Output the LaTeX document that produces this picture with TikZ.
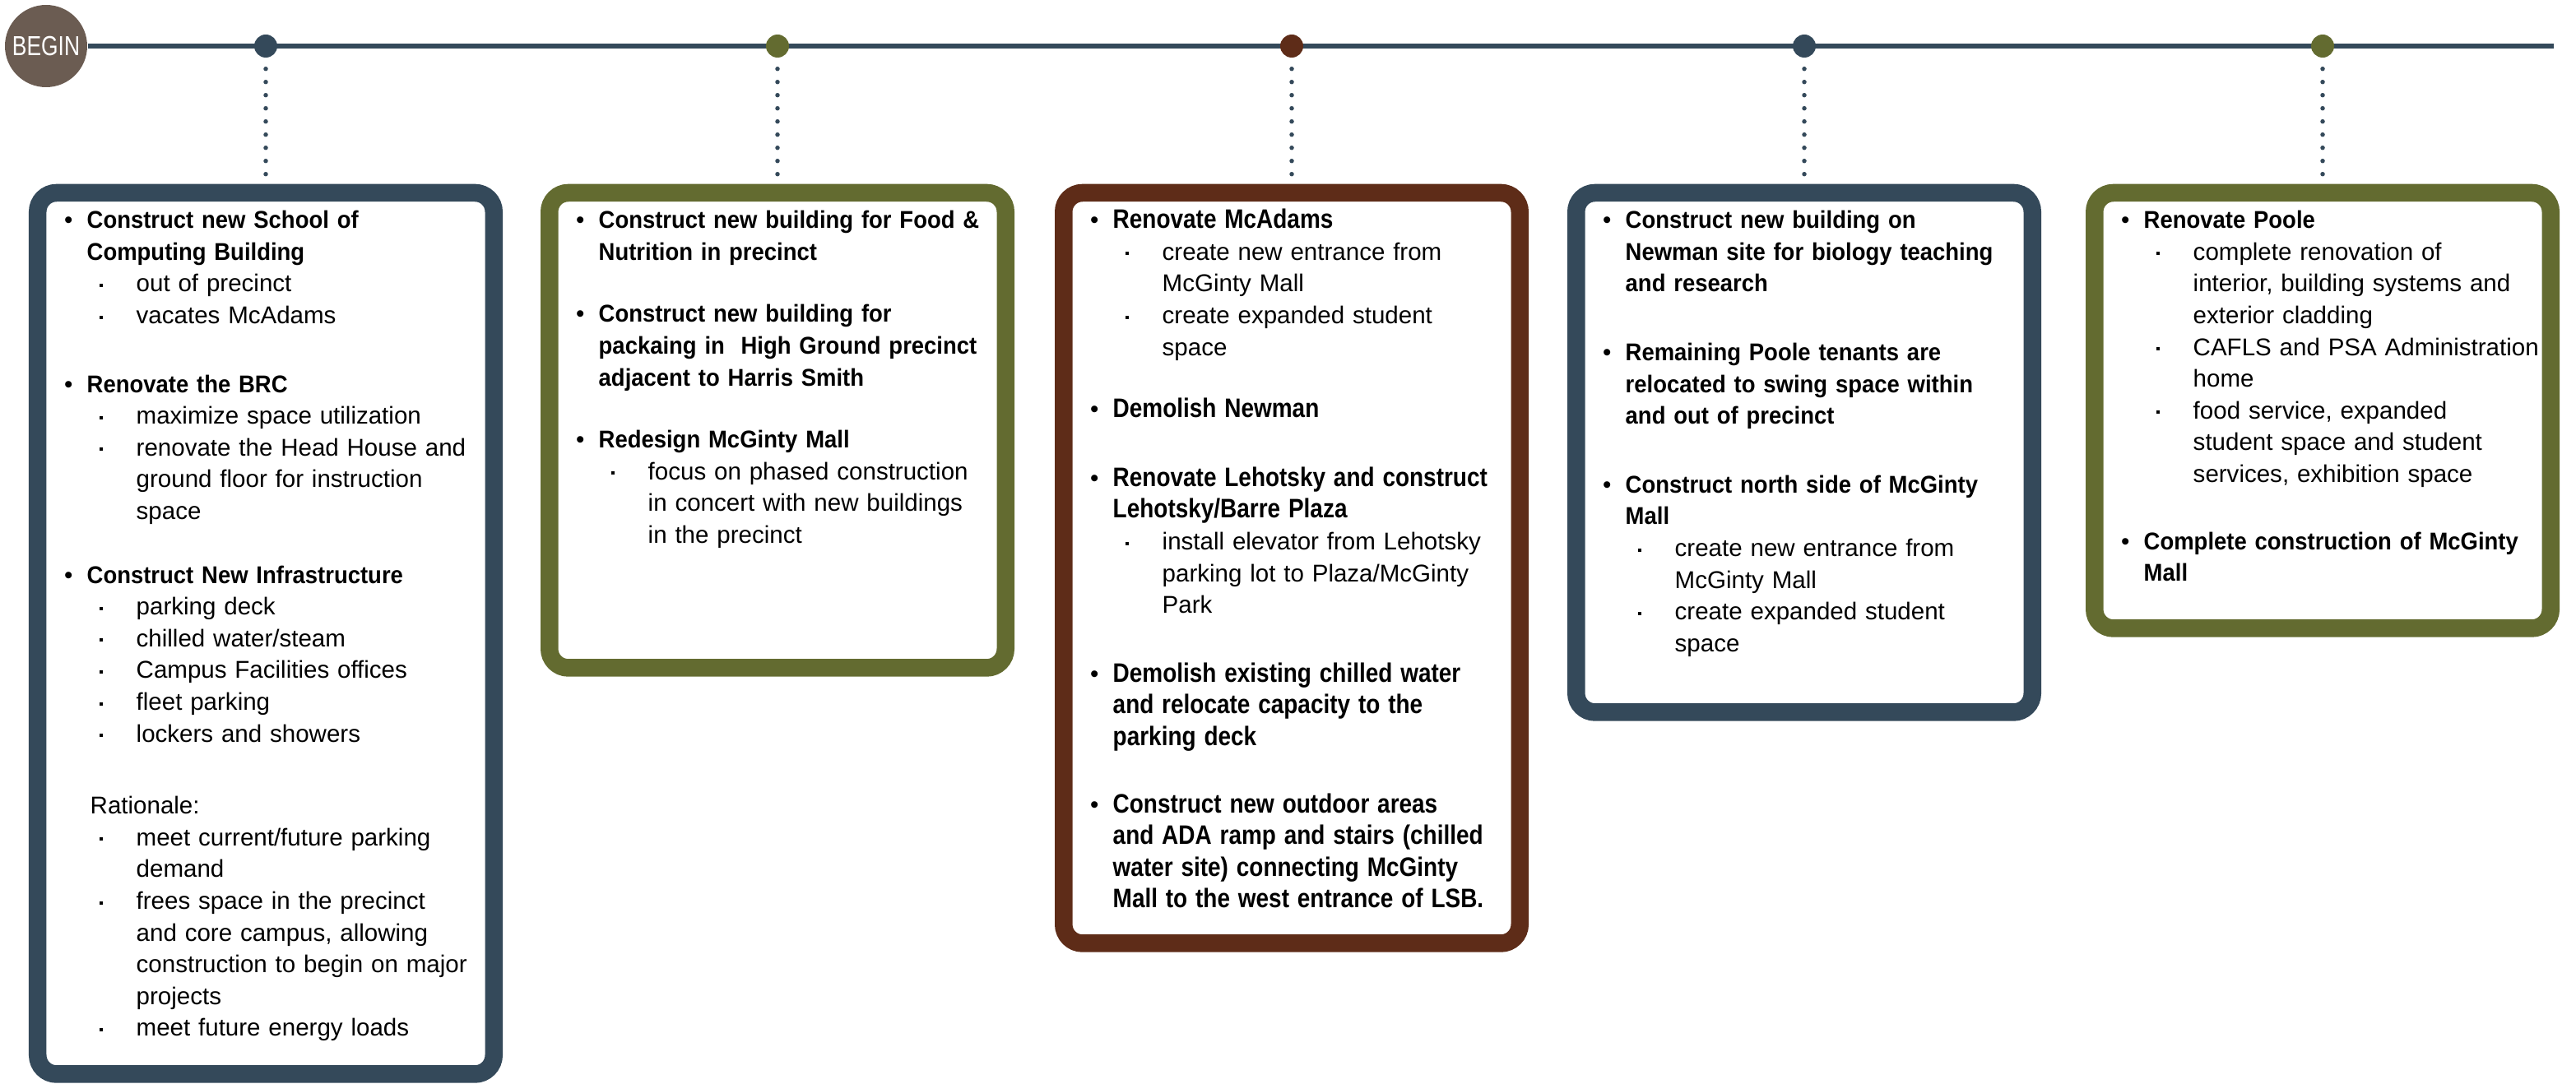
\documentclass[tikz,border=0pt]{standalone}
\usepackage{fontspec}
\setmainfont{Liberation Sans}[BoldFeatures={FakeStretch=0.93}]
\newfontfamily\condfam{Liberation Sans}[FakeStretch=0.86]
\newfontfamily\beginfam{Liberation Sans}[FakeStretch=0.79]
\usepackage{tikz}
\usetikzlibrary{positioning}
\definecolor{DeepSlate}{RGB}{52,73,90}
\definecolor{MossGreen}{RGB}{99,107,48}
\definecolor{RustBrown}{RGB}{94,44,24}
\definecolor{BeginTaupe}{RGB}{107,92,82}
\setlength{\parskip}{0pt}

% list items inside the phase boxes
\newcommand{\topic}[1]{\par\hangindent=2.75mm\hangafter=1\noindent\makebox[2.75mm][l]{\textbullet}\textbf{#1}\par}
\newcommand{\ctopic}[1]{\par\hangindent=2.75mm\hangafter=1\noindent\makebox[2.75mm][l]{\textbullet}{\condfam\bfseries\fontsize{9.25pt}{3.86mm}\selectfont #1}\par}
\newcommand{\detail}[1]{\par\hangindent=8.75mm\hangafter=1\noindent\hspace*{4.25mm}\makebox[4.5mm][l]{\raisebox{0.6mm}{\rule{0.4mm}{0.4mm}}}#1\par}
\newcommand{\gap}[1]{\par\vspace{#1}}

\begin{document}
\begin{tikzpicture}[
    x=1mm, y=1mm,
    milestone/.style={circle, fill=#1, minimum size=2.8mm, inner sep=0pt},
    phase/.style={draw=#1, line width=2.15mm, rounded corners=2.3mm, fill=white,
                  minimum width=55.45mm, inner sep=0pt},
    listing/.style={anchor=base west, inner sep=0pt, text width=53mm, align=left,
                    font=\fontsize{8.4pt}{3.86mm}\selectfont},
    leader/.style={draw=DeepSlate, line width=0.55mm, line cap=round,
                   dash pattern=on 0pt off 1.6mm, shorten <=1.3mm, shorten >=1.15mm},
    spine/.style={draw=DeepSlate, line width=0.55mm}
]

\useasboundingbox (0,0) rectangle (313.1,-131.7);

% timeline
\node[circle, fill=BeginTaupe, minimum size=10mm, inner sep=0pt, text=white,
      font=\beginfam\fontsize{9.5pt}{11pt}\selectfont] (begin) at (5.6,-5.6) {BEGIN};
\coordinate (end) at (310.4,-5.6);
\draw[spine] (begin) -- (end);

\node[milestone=DeepSlate] (m1) at (32.3,-5.6) {};
\node[milestone=MossGreen] (m2) at (94.5,-5.6) {};
\node[milestone=RustBrown] (m3) at (157.0,-5.6) {};
\node[milestone=DeepSlate] (m4) at (219.3,-5.6) {};
\node[milestone=MossGreen] (m5) at (282.3,-5.6) {};

% phase boxes
\node[phase=DeepSlate, minimum height=107.15mm, below=15.3mm of m1] (p1) {};
\node[phase=MossGreen, minimum height=57.75mm, below=15.3mm of m2] (p2) {};
\node[phase=RustBrown, minimum height=91.25mm, below=15.3mm of m3] (p3) {};
\node[phase=DeepSlate, minimum height=63.15mm, below=15.3mm of m4] (p4) {};
\node[phase=MossGreen, minimum height=52.95mm, below=15.3mm of m5] (p5) {};

\draw[leader] (m1) -- (p1);
\draw[leader] (m2) -- (p2);
\draw[leader] (m3) -- (p3);
\draw[leader] (m4) -- (p4);
\draw[leader] (m5) -- (p5);

\node[listing] (t1) at ([shift={(4.25,-1.54)}]p1.north west) {%
\topic{Construct new School of\newline Computing Building}
\detail{out of precinct}
\detail{vacates McAdams}
\gap{4.5mm}
\topic{Renovate the BRC}
\detail{maximize space utilization}
\detail{renovate the Head House and\newline ground floor for instruction\newline space}
\gap{3.9mm}
\topic{Construct New Infrastructure}
\detail{parking deck}
\detail{chilled water/steam}
\detail{Campus Facilities offices}
\detail{fleet parking}
\detail{lockers and showers}
\gap{4.9mm}
\noindent\hspace*{3.15mm}Rationale:\par
\detail{meet current/future parking\newline demand}
\detail{frees space in the precinct\newline and core campus, allowing\newline construction to begin on major\newline projects}
\detail{meet future energy loads}};

\node[listing] (t2) at ([shift={(4.25,-1.54)}]p2.north west) {%
\topic{Construct new building for Food \&\newline Nutrition in precinct}
\gap{3.7mm}
\topic{Construct new building for\newline packaing in\ \ High Ground precinct\newline adjacent to Harris Smith}
\gap{3.7mm}
\topic{Redesign McGinty Mall}
\detail{focus on phased construction\newline in concert with new buildings\newline in the precinct}};

\node[listing] (t3) at ([shift={(4.25,-1.54)}]p3.north west) {%
\ctopic{Renovate McAdams}
\detail{create new entrance from\newline McGinty Mall}
\detail{create expanded student\newline space}
\gap{3.7mm}
\ctopic{Demolish Newman}
\gap{4.5mm}
\ctopic{Renovate Lehotsky and construct\newline Lehotsky/Barre Plaza}
\detail{install elevator from Lehotsky\newline parking lot to Plaza/McGinty\newline Park}
\gap{4.5mm}
\ctopic{Demolish existing chilled water\newline and relocate capacity to the\newline parking deck}
\gap{4.3mm}
\ctopic{Construct new outdoor areas\newline and ADA ramp and stairs (chilled\newline water site) connecting McGinty\newline Mall to the west entrance of LSB.}};

\node[listing] (t4) at ([shift={(4.25,-1.54)}]p4.north west) {%
\topic{Construct new building on\newline Newman site for biology teaching\newline and research}
\gap{4.5mm}
\topic{Remaining Poole tenants are\newline relocated to swing space within\newline and out of precinct}
\gap{4.5mm}
\topic{Construct north side of McGinty\newline Mall}
\detail{create new entrance from\newline McGinty Mall}
\detail{create expanded student\newline space}};

\node[listing] (t5) at ([shift={(4.25,-1.54)}]p5.north west) {%
\topic{Renovate Poole}
\detail{complete renovation of\newline interior, building systems and\newline exterior cladding}
\detail{CAFLS and PSA Administration\newline home}
\detail{food service, expanded\newline student space and student\newline services, exhibition space}
\gap{4.3mm}
\topic{Complete construction of McGinty\newline Mall}};

\end{tikzpicture}
\end{document}
